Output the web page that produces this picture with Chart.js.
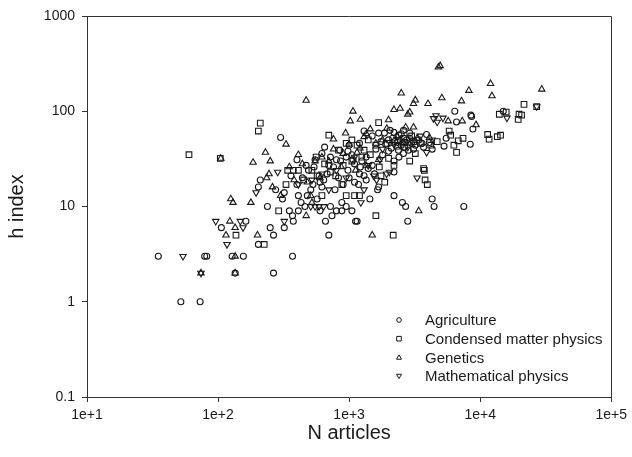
<!DOCTYPE html>
<html lang="en">
<head>
  <meta charset="UTF-8">
  <title>h index vs N articles</title>
  <script src="https://cdn.jsdelivr.net/npm/chart.js"></script>
  <style>
    html, body { margin: 0; padding: 0; background: #fff; }
    #wrap { width: 632px; height: 457px; }
  </style>
</head>
<body>

<div id="wrap"><canvas id="chart" width="632" height="457"></canvas></div>

<script>
  // [N articles, h index] per field
  const agriculture = [
    [35,3],[52,1],[73,1],[79,3],[82,3],[106,6],[128,3],[156,3],[135,2],[265,2],[370,3],
    [163,7],[203,4],[250,6],[265,5],[320,6],[375,7],[700,5],[238,10],[203,16],[300,53],
    [650,42],[850,39],[980,38],[1050,35],[1220,26],[1400,25],[1560,22],[1680,16],[1680,59],
    [1860,59],[2050,63],[2600,63],[2900,59],[2400,33],[2200,30],[2200,23],[2200,13],[2550,11],
    [2700,10],[2800,7],[4300,12],[4450,10],[7500,10],[1120,7],[1150,7],[660,7],[740,8],
    [370,8],[350,9],[1440,12],[1650,15],[440,20],[620,16],[880,11],[880,9],
    [2400,56],[3900,57],[5500,52],[5300,43],[4300,40],[6400,100],[8500,91],[6600,77],[8800,65],
    [8400,45],[8600,88],[15000,100],[2000,50],[2230,48],[2500,44],[2750,50],[3000,46],[2100,41],
    [2380,39],[2830,39],[3200,44],[490,24],[550,31],[590,21],[640,19],[700,27],[780,15],[830,20],
    [900,17],[980,24],[1070,31],[1180,17],[1300,21],[800,31],[510,15],[570,12],[410,13],[460,10],
    [410,9],[320,14],[400,17],[360,21],[470,27],[400,31],[210,19],[275,15],[310,12],
    [720,10],[800,9],[950,10],[1050,9],
    [1900,45],[2150,52],[2350,47],[2650,42],[2900,52],[3100,40],[1750,48],[1600,40],[1350,33],
    [1250,30],[1100,28],[950,33],[860,30],[760,26],[680,22],[600,18],[530,17],[480,13],[430,11],
    [600,9],[1000,20],[1100,18],[1200,22],[1350,19],[1500,27],[1800,35],[2000,38],[2600,36],
    [3400,50],[3600,46],[4100,47],[3700,42],[540,26],[620,36],[720,33],[1000,44],[1200,46],
    [1500,55],[1300,62],[2200,60],[2500,58]
  ];
  const condensedMatter = [
    [60,35],[104,32],[137,5],[210,75],[203,62],[225,4],[340,24],[375,24],[330,17],[290,9],
    [520,24],[570,21],[700,56],[1050,50],[620,13],[950,13],[1100,13],[1200,13],[1870,18],
    [1600,8],[2170,5],[1680,76],[2900,30],[3200,36],[3700,25],[3750,24],[3800,19],[3950,17],
    [5800,62],[5950,56],[7400,52],[6800,49],[6300,44],[6600,37],[15800,98],[14000,93],
    [19800,93],[20700,91],[19500,82],[21600,118],[27000,112],[11400,57],[11700,51],[13500,54],
    [14300,56],[830,39],[900,27],[1150,44],[1300,39],[1450,35],[1400,50],[2200,27],[1750,21],
    [410,24],[450,19],[790,21],
    [1950,46],[2350,43],[2650,47],[3100,48],[3500,46],[4200,44],[1600,44],[1250,33],[1050,30],
    [880,17],[720,23],[650,28],[560,33],[950,46],[2600,52],[3000,55],[4700,48],[2000,32],[1700,26]
  ];
  const genetics = [
    [105,32],[115,5],[74,2],[135,2],[135,3],[125,12],[130,11],[178,11],[123,7],[135,6],[200,5],
    [185,29],[230,37],[250,30],[245,22],[235,20],[260,16],[300,13],[330,45],[410,35],[440,28],
    [550,30],[470,8],[470,130],[1070,100],[1020,79],[760,51],[940,59],[510,13],[520,11],[620,33],
    [760,40],[1210,41],[1350,58],[1450,65],[1300,54],[1940,66],[2700,68],[3100,68],[2500,155],
    [3200,131],[3100,120],[4000,120],[5100,138],[7200,128],[4800,290],[4950,300],[8200,165],
    [12000,195],[12300,145],[29500,170],[1220,82],[2200,104],[2450,107],[2900,98],[2800,93],
    [2000,81],[5700,79],[7300,79],[9300,72],[3400,9],[1500,5],[870,26],[1120,24],[1680,31],
    [1800,50],[2300,55],[1000,45],[900,36],[1150,37],[1600,46],[700,30],[600,20],[480,18],
    [380,19],[350,26],[1350,27],[2600,47],[3300,52],[4100,53]
  ];
  const mathPhysics = [
    [96,7],[117,4],[54,3],[74,2],[148,7],[155,6],[285,23],[195,14],[320,7],[510,10],[550,10],
    [590,10],[640,10],[1230,11],[1720,31],[2030,23],[3300,20],[3900,37],[4400,84],[4700,77],
    [16000,85],[27000,112],[410,17],[800,24],[1300,15],[1540,21],[1620,19],[1930,22],[4600,90],
    [2200,45],[2800,42],[3500,55],[1800,40],[1100,33],[950,20],[700,15],[620,22],[520,19],
    [1400,27],[2400,50],[3000,50],[4300,50],[5200,85]
  ];

  const seriesNames = ['Agriculture', 'Condensed matter physics', 'Genetics', 'Mathematical physics'];
  const seriesMarkers = ['circle', 'rect', 'triangle', 'triangleDown'];

  const xTicks = [10, 100, 1000, 10000, 100000];
  const xTickLabels = ['1e+1', '1e+2', '1e+3', '1e+4', '1e+5'];
  const yTicks = [0.1, 1, 10, 100, 1000];
  const yTickLabels = ['0.1', '1', '10', '100', '1000'];

  const ink = '#1a1a1a';
  const font = 'Liberation Sans, Arial, sans-serif';

  function toPoints(arr) {
    return arr.map(p => ({ x: p[0], y: p[1] }));
  }

  function markerStyle(m) {
    if (m === 'circle') return { pointStyle: 'circle', pointRadius: 3, pointRotation: 0 };
    if (m === 'rect') return { pointStyle: 'rect', pointRadius: 4, pointRotation: 0 };
    if (m === 'triangle') return { pointStyle: 'triangle', pointRadius: 3.7, pointRotation: 0 };
    return { pointStyle: 'triangle', pointRadius: 3.7, pointRotation: 180 };
  }

  const allSeries = [agriculture, condensedMatter, genetics, mathPhysics];

  // frame on top and right side of plot
  const framePlugin = {
    id: 'frame',
    afterDraw(chart) {
      const { ctx, chartArea: a } = chart;
      ctx.save();
      ctx.strokeStyle = '#333';
      ctx.lineWidth = 1;
      ctx.beginPath();
      ctx.moveTo(Math.round(a.left) + 0.5, Math.round(a.top) + 0.5);
      ctx.lineTo(Math.round(a.right) + 0.5, Math.round(a.top) + 0.5);
      ctx.lineTo(Math.round(a.right) + 0.5, Math.round(a.bottom) + 0.5);
      ctx.stroke();
      ctx.restore();
    }
  };

  // legend drawn inside the plot, bottom right
  function drawMarker(ctx, m, x, y, r) {
    ctx.beginPath();
    if (m === 'circle') {
      ctx.arc(x, y, r, 0, Math.PI * 2);
    } else if (m === 'rect') {
      ctx.rect(x - r, y - r, 2 * r, 2 * r);
    } else if (m === 'triangle') {
      ctx.moveTo(x, y - r * 1.1);
      ctx.lineTo(x + r * 1.1, y + r * 0.8);
      ctx.lineTo(x - r * 1.1, y + r * 0.8);
      ctx.closePath();
    } else {
      ctx.moveTo(x, y + r * 1.1);
      ctx.lineTo(x + r * 1.1, y - r * 0.8);
      ctx.lineTo(x - r * 1.1, y - r * 0.8);
      ctx.closePath();
    }
    ctx.stroke();
  }

  const legendPlugin = {
    id: 'insideLegend',
    afterDraw(chart) {
      const ctx = chart.ctx;
      ctx.save();
      ctx.strokeStyle = ink;
      ctx.lineWidth = 1;
      ctx.fillStyle = ink;
      ctx.font = '15px ' + font;
      ctx.textBaseline = 'middle';
      seriesNames.forEach((name, i) => {
        const y = 320 + i * 18.7;
        drawMarker(ctx, seriesMarkers[i], 399, y, 2.3);
        ctx.fillText(name, 425, y + 1);
      });
      ctx.restore();
    }
  };

  const datasets = allSeries.map((s, i) => Object.assign({
    label: seriesNames[i],
    data: toPoints(s),
    backgroundColor: 'rgba(0,0,0,0)',
    borderColor: ink,
    borderWidth: 1.1,
    pointHoverRadius: 3
  }, markerStyle(seriesMarkers[i])));

  new Chart(document.getElementById('chart'), {
    type: 'scatter',
    data: { datasets },
    options: {
      responsive: false,
      devicePixelRatio: 1,
      animation: false,
      layout: { padding: { top: 16, right: 18, left: 0, bottom: 0 } },
      plugins: {
        legend: { display: false },
        tooltip: { enabled: false }
      },
      scales: {
        x: {
          type: 'logarithmic',
          min: 10,
          max: 100000,
          afterBuildTicks: s => { s.ticks = xTicks.map(v => ({ value: v })); },
          afterFit: s => { s.height = 60; },
          ticks: {
            callback: (v, i) => xTickLabels[i],
            font: { family: font, size: 14 },
            color: ink,
            padding: 5,
            maxRotation: 0,
            autoSkip: false
          },
          grid: { drawOnChartArea: false, tickLength: 5, color: '#333' },
          border: { color: '#333', width: 1 },
          title: {
            display: true,
            text: 'N articles',
            font: { family: font, size: 20 },
            color: ink,
            padding: { top: 0, bottom: 12 }
          }
        },
        y: {
          type: 'logarithmic',
          min: 0.1,
          max: 1000,
          afterBuildTicks: s => { s.ticks = yTicks.map(v => ({ value: v })); },
          afterFit: s => { s.width = 87; },
          ticks: {
            callback: (v, i) => yTickLabels[i],
            font: { family: font, size: 14 },
            color: ink,
            padding: 7,
            autoSkip: false
          },
          grid: { drawOnChartArea: false, tickLength: 5, color: '#333' },
          border: { color: '#333', width: 1 },
          title: {
            display: true,
            text: 'h index',
            font: { family: font, size: 20 },
            color: ink,
            padding: { top: 5, bottom: 0 }
          }
        }
      }
    },
    plugins: [framePlugin, legendPlugin]
  });
</script>

</body>
</html>
